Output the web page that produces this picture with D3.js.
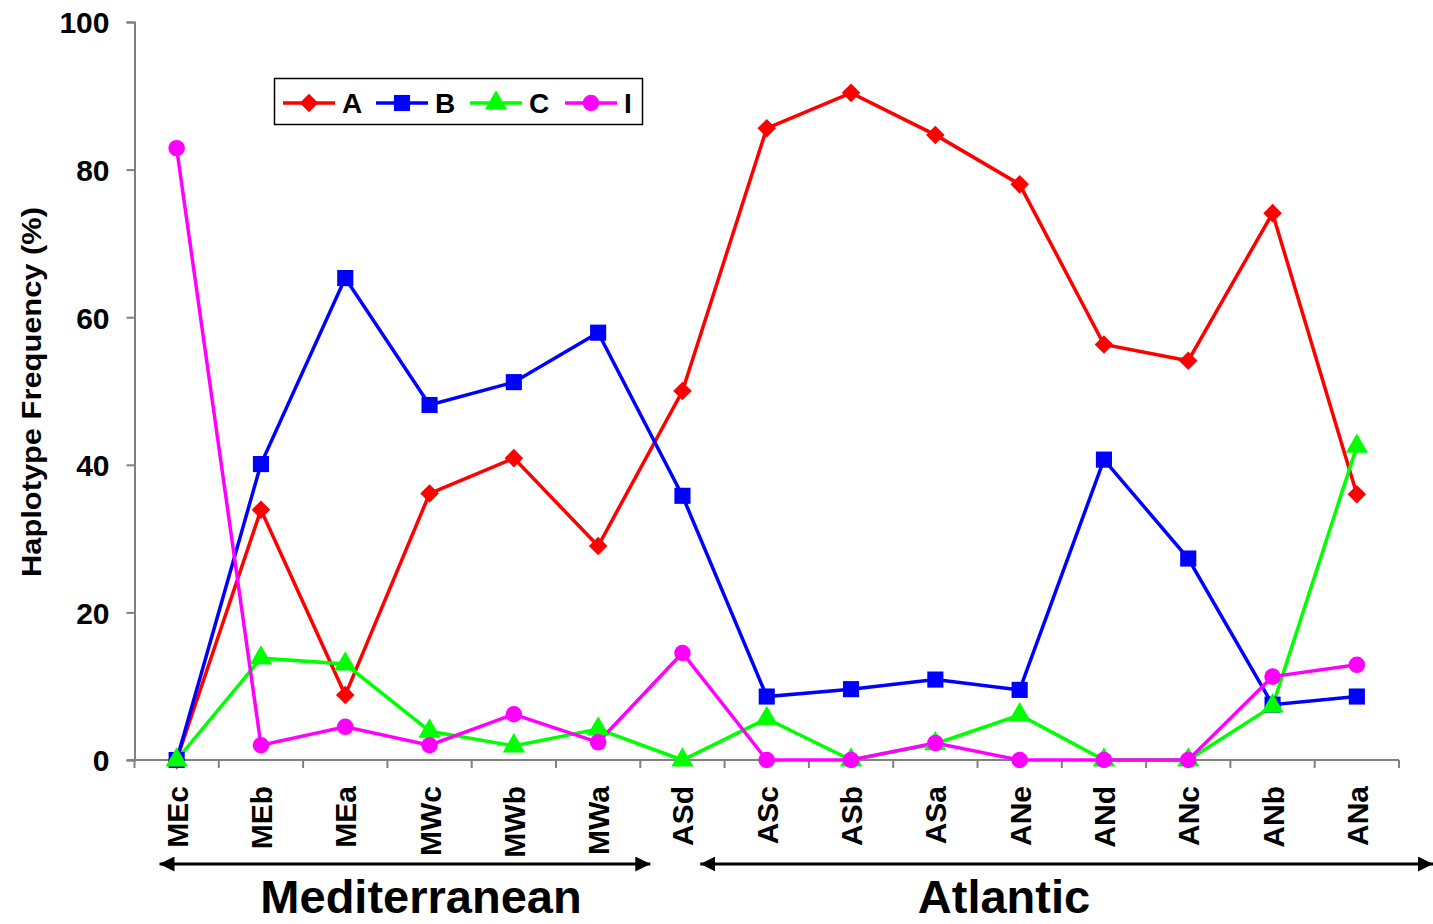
<!DOCTYPE html>
<html>
<head>
<meta charset="utf-8">
<script src="https://cdn.jsdelivr.net/npm/d3@7"></script>
<style>
  html, body { margin: 0; padding: 0; background: #fff; }
  svg { display: block; font-family: "Liberation Sans", Arial, sans-serif; font-weight: bold; }
</style>
</head>
<body>
<svg id="chart" width="1433" height="924"></svg>
<script>
const categories = ["MEc","MEb","MEa","MWc","MWb","MWa","ASd","ASc","ASb","ASa","ANe","ANd","ANc","ANb","ANa"];
const seriesA = [0, 33.9, 8.8, 36.1, 40.9, 29.0, 50.0, 85.6, 90.4, 84.7, 78.0, 56.3, 54.1, 74.1, 36.0];
const seriesB = [0, 40.1, 65.3, 48.1, 51.2, 57.9, 35.8, 8.6, 9.6, 10.9, 9.5, 40.7, 27.3, 7.5, 8.6];
const seriesC = [0, 13.8, 13.0, 3.9, 1.9, 4.2, 0, 5.6, 0, 2.2, 6.1, 0, 0, 7.3, 42.5];
const seriesI = [82.9, 2.0, 4.5, 2.0, 6.2, 2.4, 14.5, 0, 0, 2.3, 0, 0, 0, 11.3, 12.9];
const yTicks = [0, 20, 40, 60, 80, 100];
const seriesNames = ["A","B","C","I"];
const regions = ["Mediterranean","Atlantic"];

const series = [
  {name: seriesNames[0], values: seriesA, color: "#ff0000", symbol: d3.symbolDiamond2, size: 220},
  {name: seriesNames[1], values: seriesB, color: "#0000ff", symbol: d3.symbolSquare, size: 260},
  {name: seriesNames[2], values: seriesC, color: "#00ff00", symbol: d3.symbolTriangle, size: 215},
  {name: seriesNames[3], values: seriesI, color: "#ff00ff", symbol: d3.symbolCircle, size: 215}
];

const svg = d3.select("#chart");
const x = d3.scaleBand().domain(categories).range([134.5, 1399]).padding(0);
const y = d3.scaleLinear().domain([0, 100]).range([760, 22]);
const cx = d => x(d) + x.bandwidth() / 2;

// Y axis
const yAxis = svg.append("g").attr("transform", "translate(134.5,0)")
  .call(d3.axisLeft(y).tickValues(yTicks).tickSize(8).tickPadding(17));
yAxis.select(".domain").attr("stroke", "#808080").attr("stroke-width", 2);
yAxis.selectAll(".tick line").attr("stroke", "#808080").attr("stroke-width", 2);
yAxis.selectAll(".tick text").attr("font-size", 30).attr("font-weight", "bold")
  .attr("font-family", "Liberation Sans, Arial, sans-serif").attr("fill", "#000").attr("dy", "0.36em");

// X axis
const xAxis = svg.append("g").attr("transform", "translate(0,760)")
  .call(d3.axisBottom(x).tickSize(0).tickFormat(() => ""));
xAxis.select(".domain").attr("stroke", "#808080").attr("stroke-width", 2)
  .attr("d", `M127,0H1399`);
// band boundary ticks
const bounds = categories.map(c => x(c)).concat([x(categories[categories.length-1]) + x.bandwidth()]);
svg.append("g").selectAll("line").data(bounds).join("line")
  .attr("x1", d => d).attr("x2", d => d).attr("y1", 760).attr("y2", 768)
  .attr("stroke", "#808080").attr("stroke-width", 2);

// X labels rotated
svg.append("g").selectAll("text").data(categories).join("text")
  .attr("transform", d => `translate(${cx(d) + 11},786) rotate(-90)`)
  .attr("text-anchor", "end")
  .attr("font-size", 30).attr("font-weight", "bold").attr("fill", "#000")
  .text(d => d);

// Y title
svg.append("text")
  .attr("transform", "translate(41,392) rotate(-90)")
  .attr("text-anchor", "middle")
  .attr("font-size", 27).attr("font-weight", "bold")
  .attr("textLength", 370).attr("lengthAdjust", "spacingAndGlyphs")
  .text("Haplotype Frequency (%)");

// Lines
const line = d3.line().x((v, i) => cx(categories[i])).y(v => y(v));
series.forEach(s => {
  svg.append("path").datum(s.values)
    .attr("d", line).attr("fill", "none").attr("stroke", s.color).attr("stroke-width", 3.5);
});
series.forEach(s => {
  svg.append("g").selectAll("path").data(s.values).join("path")
    .attr("d", d3.symbol().type(s.symbol).size(s.size))
    .attr("transform", (v, i) => `translate(${cx(categories[i])},${y(v)})`)
    .attr("fill", s.color);
});

// Legend
const lg = svg.append("g");
lg.append("rect").attr("x", 274.5).attr("y", 78.5).attr("width", 368).attr("height", 46)
  .attr("fill", "#fff").attr("stroke", "#000").attr("stroke-width", 1.5);
const legX = [283, 376, 470, 565];
series.forEach((s, i) => {
  const x0 = legX[i];
  lg.append("line").attr("x1", x0).attr("x2", x0 + 52).attr("y1", 103).attr("y2", 103)
    .attr("stroke", s.color).attr("stroke-width", 3.5);
  lg.append("path").attr("d", d3.symbol().type(s.symbol).size(s.size))
    .attr("transform", `translate(${x0 + 26},103)`).attr("fill", s.color);
  lg.append("text").attr("x", x0 + 59).attr("y", 103).attr("dy", "0.36em")
    .attr("font-size", 28).attr("font-weight", "bold").text(s.name);
});

// Region arrows
svg.append("defs").html(`
  <marker id="ah" viewBox="0 0 10 10" refX="10" refY="5" markerWidth="5" markerHeight="5" markerUnits="strokeWidth" orient="auto-start-reverse">
    <path d="M0,0 L10,5 L0,10 z" fill="#000"/>
  </marker>`);
const arrows = [
  {x1: x(categories[0]) + 25, x2: x(categories[5]) + x.bandwidth() + 10, label: regions[0], lx: 421},
  {x1: x(categories[6]) + 60, x2: 1433, label: regions[1], lx: 1004}
];
arrows.forEach(a => {
  svg.append("line").attr("x1", a.x1).attr("x2", a.x2).attr("y1", 864).attr("y2", 864)
    .attr("stroke", "#000").attr("stroke-width", 3)
    .attr("marker-start", "url(#ah)").attr("marker-end", "url(#ah)");
  svg.append("text").attr("x", a.lx).attr("y", 913).attr("text-anchor", "middle")
    .attr("font-size", 47).attr("font-weight", "bold").text(a.label);
});
</script>
</body>
</html>
